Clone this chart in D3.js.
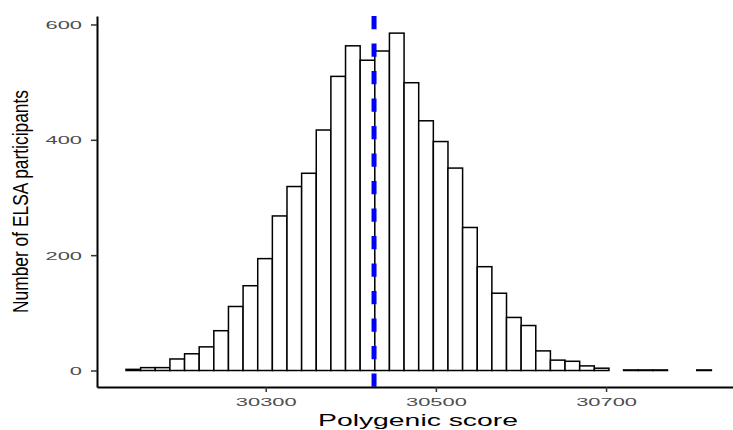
<!DOCTYPE html>
<html>
<head>
<meta charset="utf-8">
<script src="https://cdn.jsdelivr.net/npm/d3@7"></script>
<style>
  body { margin: 0; background: #fff; }
  text { font-family: "Liberation Sans", Arial, sans-serif; }
</style>
</head>
<body>
<script>
// left edge of each histogram bin (binwidth ~17.2)
var binStart = [30135.8, 30153.0, 30170.2, 30187.4, 30204.6, 30221.8, 30239.0, 30256.2,
  30273.4, 30290.6, 30307.8, 30325.0, 30342.2, 30359.4, 30376.6, 30393.8, 30411.0,
  30428.2, 30445.4, 30462.6, 30479.8, 30497.0, 30514.2, 30531.4, 30548.6, 30565.8,
  30583.0, 30600.2, 30617.4, 30634.6, 30651.8, 30669.0, 30686.2, 30703.4, 30720.6,
  30737.8, 30755.0, 30772.2, 30789.4, 30806.6];
var binWidth = 17.2;
var counts = [2, 5, 5, 20, 29, 41, 69, 111, 147, 194, 268, 319, 342, 417, 510, 563, 538,
  554, 585, 499, 433, 397, 351, 248, 180, 134, 92, 78, 34, 18, 16, 8, 4, 0, 1, 1, 1, 0, 0, 1];
var meanScore = 30427.3;
var xTicks = [30300, 30500, 30700];
var yTicks = [0, 200, 400, 600];

var width = 733, height = 430;
var panel = {left: 97, right: 733, top: 16, bottom: 387};

var x = d3.scaleLinear().domain([30101.7, 30849.2]).range([panel.left, panel.right]);
var y = d3.scaleLinear().domain([-28.6, 614.7]).range([panel.bottom, panel.top]);

var svg = d3.select("body").append("svg")
    .attr("width", width)
    .attr("height", height);

var data = binStart.map(function(s, i) { return {x0: s, x1: s + binWidth, n: counts[i]}; })
    .filter(function(d) { return d.n > 0; });

// bars
svg.append("g").selectAll("rect")
    .data(data)
  .enter().append("rect")
    .attr("x", function(d) { return x(d.x0); })
    .attr("width", function(d) { return x(d.x1) - x(d.x0); })
    .attr("y", function(d) { return y(d.n); })
    .attr("height", function(d) { return y(0) - y(d.n); })
    .attr("fill", "#fff")
    .attr("stroke", "#000")
    .attr("stroke-width", 1.5);

// mean line
svg.append("line")
    .attr("x1", x(meanScore)).attr("x2", x(meanScore))
    .attr("y1", panel.top).attr("y2", panel.bottom)
    .attr("stroke", "#0000ff")
    .attr("stroke-width", 5)
    .attr("stroke-dasharray", "13.3,14.2");

// x axis
var gx = svg.append("g")
    .attr("transform", "translate(0," + panel.bottom + ")")
    .call(d3.axisBottom(x).tickValues(xTicks).tickFormat(d3.format("d"))
        .tickSize(5).tickSizeOuter(0));

// y axis
var gy = svg.append("g")
    .attr("transform", "translate(" + panel.left + ",0)")
    .call(d3.axisLeft(y).tickValues(yTicks).tickSize(6).tickSizeOuter(0));

[gx, gy].forEach(function(g) {
  g.select(".domain").attr("stroke", "#000").attr("stroke-width", 2);
  g.selectAll(".tick line").attr("stroke", "#333").attr("stroke-width", 1.5);
  g.selectAll(".tick text")
      .attr("fill", "#4d4d4d")
      .attr("font-size", 11.5)
      .attr("font-family", "Liberation Sans, Arial, sans-serif");
});

gx.selectAll(".tick text").attr("y", 19).attr("dy", 0);
gy.selectAll(".tick text").attr("x", -15).attr("dy", "0.35em");

// stretch tick labels horizontally like the reference
svg.selectAll(".tick text").each(function() {
  var len = this.getComputedTextLength();
  d3.select(this).attr("textLength", len * 1.9).attr("lengthAdjust", "spacingAndGlyphs");
});

// axis titles
svg.append("text")
    .attr("x", 418)
    .attr("y", 426)
    .attr("text-anchor", "middle")
    .attr("font-size", 16.5)
    .attr("textLength", 200)
    .attr("lengthAdjust", "spacingAndGlyphs")
    .text("Polygenic score");

svg.append("text")
    .attr("transform", "translate(28," + ((panel.top + panel.bottom) / 2) + ") rotate(-90)")
    .attr("text-anchor", "middle")
    .attr("font-size", 22)
    .attr("textLength", 223)
    .attr("lengthAdjust", "spacingAndGlyphs")
    .text("Number of ELSA participants");
</script>
</body>
</html>
